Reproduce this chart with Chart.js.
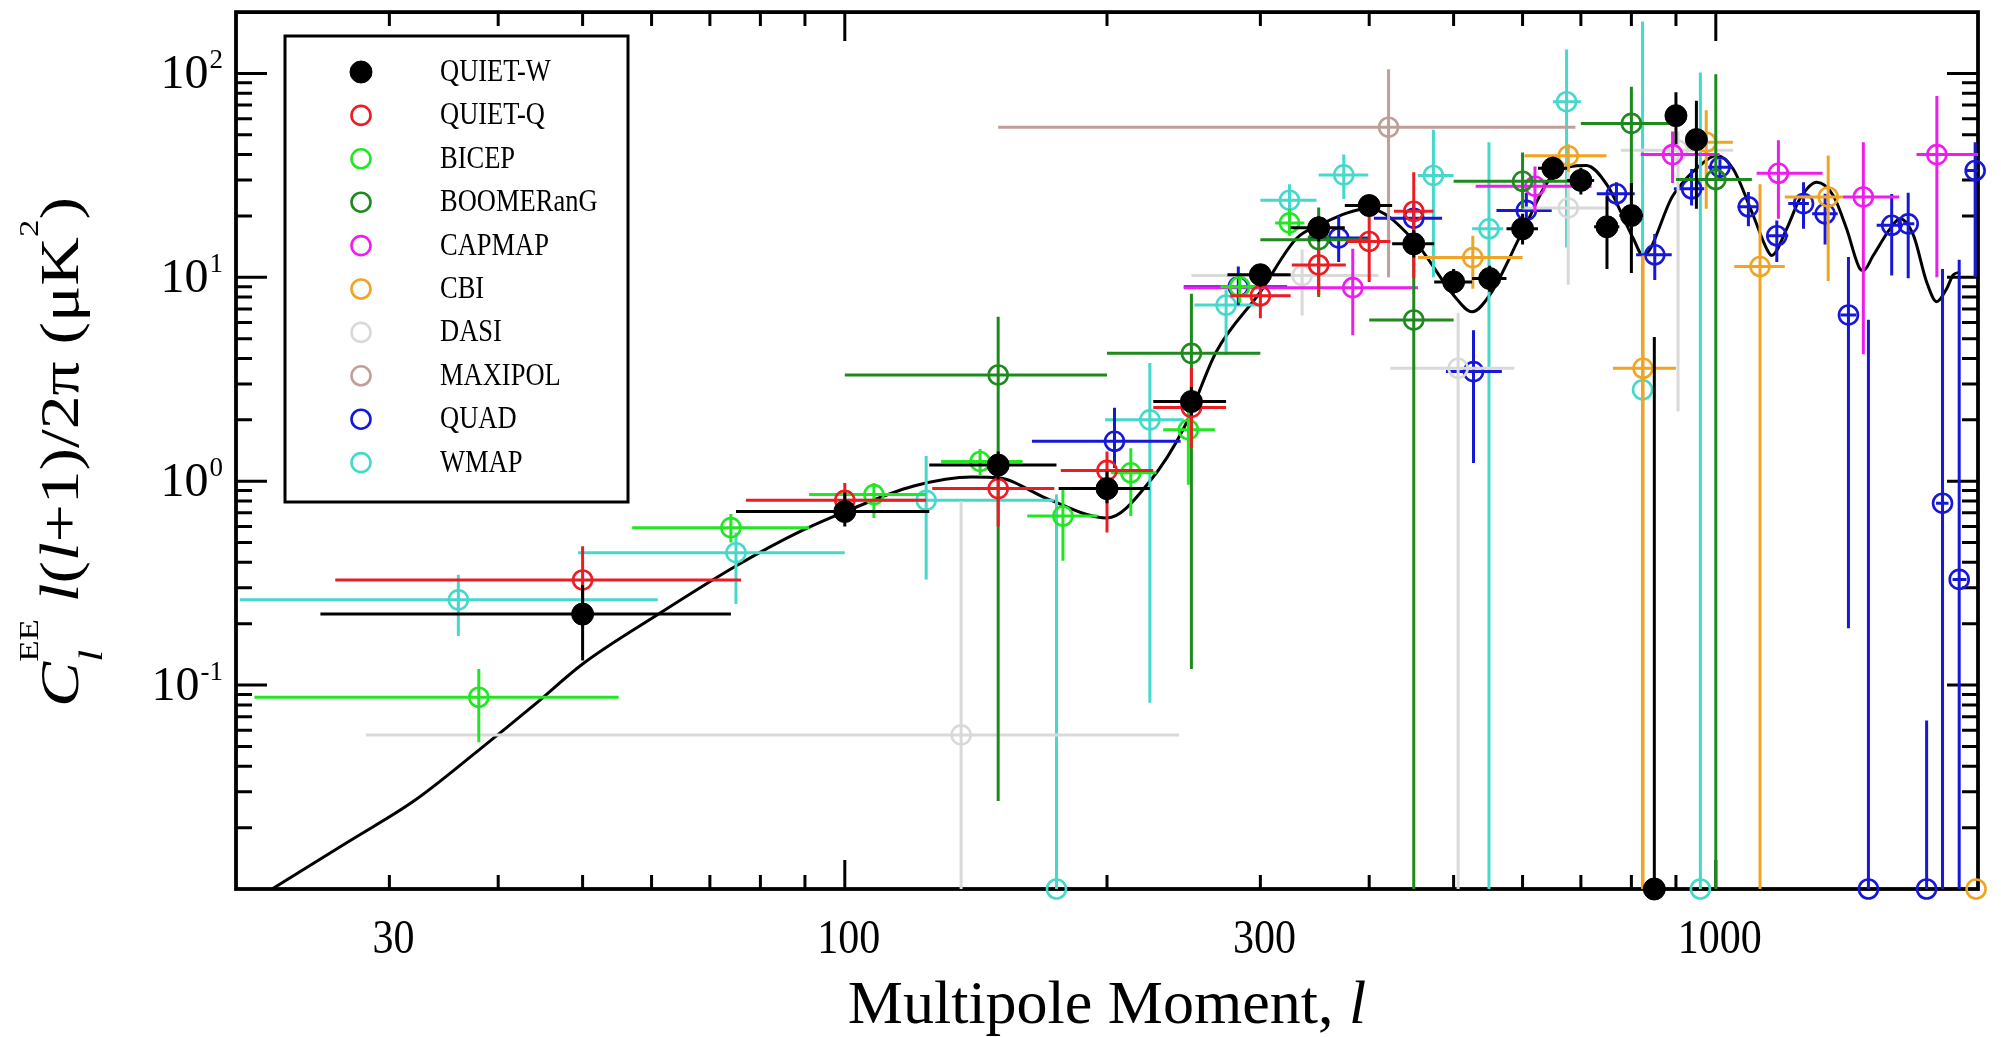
<!DOCTYPE html>
<html><head><meta charset="utf-8">
<script src="https://cdn.jsdelivr.net/npm/chart.js@4/dist/chart.umd.min.js"></script>
<style>html,body{margin:0;padding:0;background:#fff;}#wrap{width:2001px;height:1037px;}</style>
</head><body><div id="wrap"><canvas id="c" width="2001" height="1037"></canvas></div>
<script>
// ---------- data ----------
const curveL = [22,27,32,38,44,50,61,75,89,100,120,140,150,172,200,224,245,267,300,330,350,400,450,500,525,550,600,650,710,750,804,825,893,959,1002,1047,1104,1144,1159,1206,1249,1306,1364,1413,1464,1477,1516,1585,1627,1686,1746,1793,1841,1874,1908];
const curveV = [0.0100,0.0172,0.027,0.048,0.080,0.127,0.222,0.384,0.569,0.708,0.948,1.05,1.04,0.81,0.66,1.0,1.82,4.32,8.49,15.5,18.0,21.7,15.2,8.18,6.78,8.18,16.8,31.6,35.4,28.4,15.5,12.8,25.2,35.4,39.6,34.0,20.1,13.8,12.8,17.3,24.3,29.3,25.2,17.3,11.0,10.8,12.8,17.3,19.4,16.1,9.5,7.6,8.8,10.3,10.6];

const quietW_l   = [50,100,150,200,250,300,350,400,450,500,550,600,650,700,750,800,850,900,950];
const quietW_v   = [0.223,0.71,1.2,0.92,2.46,10.3,17.5,22.5,14.6,9.5,9.87,17.3,34.3,29.9,17.7,20.1,0.01,62.1,47.4];
const quietW_lLo = [25,75,125,176,226,275,325,375,425,475,525,575,625,675,725,775,850,875,925];
const quietW_lHi = [74,125,175,224,274,325,375,425,475,525,575,625,675,725,775,825,850,925,975];
const quietW_vLo = [0.132,0.6,1.02,0.78,2.1,9.0,15,20,12.5,8.3,8.5,14.5,30,25.5,11,10.5,0.001,45,21.7];
const quietW_vHi = [0.31,0.88,1.4,1.12,2.9,11.6,20,25,17,11,11.4,20.5,39,34.5,25,29,5.1,81,73.5];

const quietQ_l   = [50,100,150,200,250,300,350,400,450];
const quietQ_v   = [0.328,0.806,0.92,1.13,2.3,8.12,11.5,15.0,21.1];
const quietQ_lLo = [26,77,126,177,226,277,326,377,427];
const quietQ_lHi = [76,124,174,226,274,325,376,423,474];
const quietQ_vLo = [0.19,0.67,0.6,0.56,1.46,6.3,8.2,9.5,9.9];
const quietQ_vHi = [0.48,0.98,1.2,1.4,3.6,9.6,13.8,20.3,32.8];

const bicep_l   = [38,74,108,143,178,213,248,284,324];
const bicep_v   = [0.0872,0.592,0.86,1.25,0.675,1.1,1.79,9.0,18.5];
const bicep_lLo = [21,57,91,129,162,202,232,270,312];
const bicep_lHi = [55,91,124,160,195,228,266,300,337];
const bicep_vLo = [0.0525,0.5,0.66,1.07,0.407,0.675,0.96,7.5,16];
const bicep_vHi = [0.12,0.69,0.98,1.44,0.91,1.45,2.3,10.5,21.7];

const boom_l   = [150,250,350,450,600,800,1000];
const boom_v   = [3.32,4.24,15.3,6.18,29.6,56.9,30.2];
const boom_lLo = [100,200,300,400,500,700,900];
const boom_lHi = [200,300,400,500,700,900,1100];
const boom_vLo = [0.027,0.12,8,0.001,21.7,17,0.001];
const boom_vHi = [6.4,8.3,22,15,41,86,99];

const capmap_l   = [383,620,892,1180,1477,1794];
const capmap_v   = [8.9,28,40,32.4,24.8,40];
const capmap_lLo = [245,530,820,1114,1400,1700];
const capmap_lHi = [455,720,1010,1326,1624,2000];
const capmap_vLo = [5.2,21,29,19.4,4.2,10];
const capmap_vHi = [13.8,35,52,47.1,46,77.5];

const cbi_l   = [526,677,825,975,1124,1346,1990];
const cbi_v   = [12.5,39.5,3.58,46,11.3,24.8,0.01];
const cbi_lLo = [455,603,762,948,1050,1200,1990];
const cbi_lHi = [600,749,900,1046,1200,1400,1990];
const cbi_vLo = [8.8,33,0.001,21.7,0.001,9.6,0.01];
const cbi_vHi = [16,45,12.8,66,28.6,39.6,0.01];

const dasi_l   = [136,335,506,677,905];
const dasi_v   = [0.057,10.2,3.58,21.9,42];
const dasi_lLo = [28.2,250,423,600,778];
const dasi_lHi = [242,410,587,755,1047];
const dasi_vLo = [0.001,6.5,0.001,9.2,2.2];
const dasi_vHi = [0.8,13.7,6.7,40,52];

const maxipol_l   = [421];
const maxipol_v   = [54.5];
const maxipol_lLo = [150];
const maxipol_lHi = [690];
const maxipol_vLo = [10];
const maxipol_vHi = [105];

const quad_l   = [204,283,369,450,527,606,769,851,938,1011,1090,1175,1261,1335,1420,1497,1592,1663,1746,1821,1903,1985];
const quad_v   = [1.57,9.0,15.6,19.5,3.45,21.3,25.7,12.9,27.2,34.7,22.2,16.0,23.0,20.5,6.54,0.01,18.0,18.3,0.01,0.78,0.33,33.4];
const quad_lLo = [164,245,340,405,490,560,730,810,895,980,1059,1144,1211,1290,1390,1497,1530,1640,1746,1790,1870,1940];
const quad_lHi = [243,322,400,485,568,648,807,890,970,1045,1116,1211,1279,1380,1450,1497,1640,1690,1746,1850,1940,2000];
const quad_vLo = [1.16,7.3,11.9,16.5,1.23,18,22.5,9.7,22.5,31,17.8,11.9,17.3,14.5,0.19,0.001,10.2,9.9,0.001,0.001,0.001,10];
const quad_vHi = [2.29,11.3,20.1,23,5.5,26,29.3,16.3,34,38,26.2,19.0,29.3,25.7,12.6,6.2,25.6,26,0.067,11,12.2,46];

const wmap_l   = [36,75,124,175,224,274,324,374,474,549,674,824,960];
const wmap_v   = [0.262,0.446,0.806,0.01,2.0,7.31,23.9,31.8,31.6,17.3,72.7,2.81,0.01];
const wmap_lLo = [20.2,49.4,100,175,199,252,300,350,455,525,650,824,960];
const wmap_lHi = [61,100,174,175,245,300,348,399,500,570,700,824,960];
const wmap_vLo = [0.174,0.25,0.33,0.001,0.082,4.16,19.4,24.2,10,0.001,14,0.001,0.001];
const wmap_vHi = [0.348,0.56,1.33,0.86,3.8,8.7,28.6,40,53,46,131,180,101];

const xTickValues = [30,100,300,1000];
const xTickLabels = ['30','100','300','1000'];
const yTickValues = [0.1,1,10,100];
const yTickExps   = ['-1','0','1','2'];

// ---------- build ----------
function series(label, color, L, V, lLo, lHi, vLo, vHi, filled){
  return {
    type:'scatter', label,
    data: L.map((l,i)=>({x:l, y:V[i]})),
    errX: L.map((_,i)=>[lLo[i], lHi[i]]),
    errY: L.map((_,i)=>[vLo[i], vHi[i]]),
    pointBorderColor: color,
    pointBackgroundColor: filled ? color : 'rgba(255,255,255,0)',
    pointRadius: filled ? 11 : 9.5,
    pointBorderWidth: filled ? 1 : 2.6,
    pointHoverRadius: filled ? 11 : 9.5,
    showLine:false, clip:false
  };
}
const datasets = [
  series('QUIET-W','#000000',quietW_l,quietW_v,quietW_lLo,quietW_lHi,quietW_vLo,quietW_vHi,true),
  series('QUIET-Q','#ec1c24',quietQ_l,quietQ_v,quietQ_lLo,quietQ_lHi,quietQ_vLo,quietQ_vHi,false),
  series('BICEP','#22e622',bicep_l,bicep_v,bicep_lLo,bicep_lHi,bicep_vLo,bicep_vHi,false),
  series('BOOMERanG','#1e8a1e',boom_l,boom_v,boom_lLo,boom_lHi,boom_vLo,boom_vHi,false),
  series('CAPMAP','#ee1cee',capmap_l,capmap_v,capmap_lLo,capmap_lHi,capmap_vLo,capmap_vHi,false),
  series('CBI','#f0a424',cbi_l,cbi_v,cbi_lLo,cbi_lHi,cbi_vLo,cbi_vHi,false),
  series('DASI','#d9d9d9',dasi_l,dasi_v,dasi_lLo,dasi_lHi,dasi_vLo,dasi_vHi,false),
  series('MAXIPOL','#bf9f9a',maxipol_l,maxipol_v,maxipol_lLo,maxipol_lHi,maxipol_vLo,maxipol_vHi,false),
  series('QUAD','#1717d8',quad_l,quad_v,quad_lLo,quad_lHi,quad_vLo,quad_vHi,false),
  series('WMAP','#45d9cb',wmap_l,wmap_v,wmap_lLo,wmap_lHi,wmap_vLo,wmap_vHi,false),
  { type:'line', label:'model', data: curveL.map((l,i)=>({x:l,y:curveV[i]})),
    borderColor:'#000', borderWidth:3, pointRadius:0, fill:false,
    cubicInterpolationMode:'monotone', isModel:true }
];

const SERIF = '"Liberation Serif","DejaVu Serif",serif';
const SY = 1.18; // vertical stretch of glyphs in the reference

function txt(ctx, s, x, y, size, italic, align, sy){
  ctx.save();
  ctx.font = (italic?'italic ':'') + size + 'px ' + SERIF;
  ctx.textAlign = align || 'left';
  ctx.textBaseline = 'alphabetic';
  ctx.translate(x, y); ctx.scale(1, sy || SY);
  ctx.fillText(s, 0, 0);
  ctx.restore();
}
function w(ctx, s, size, italic){
  ctx.font = (italic?'italic ':'') + size + 'px ' + SERIF;
  return ctx.measureText(s).width;
}

const errPlugin = {
  id:'errBars',
  beforeDatasetDraw(chart, args){
    const ds = chart.data.datasets[args.index];
    if(!ds.errX) return;
    const {ctx, chartArea:a, scales:{x,y}} = chart;
    ctx.save();
    ctx.beginPath(); ctx.rect(a.left,a.top,a.right-a.left,a.bottom-a.top); ctx.clip();
    ctx.strokeStyle = ds.pointBorderColor; ctx.lineWidth = 3;
    ctx.beginPath();
    ds.data.forEach((p,i)=>{
      const px=x.getPixelForValue(p.x), py=y.getPixelForValue(p.y);
      const [l0,l1]=ds.errX[i], [v0,v1]=ds.errY[i];
      if(l1>l0){ ctx.moveTo(x.getPixelForValue(l0),py); ctx.lineTo(x.getPixelForValue(l1),py); }
      if(v1>v0){ ctx.moveTo(px,y.getPixelForValue(v0)); ctx.lineTo(px,y.getPixelForValue(v1)); }
    });
    ctx.stroke(); ctx.restore();
  }
};

const framePlugin = {
  id:'frame',
  beforeDatasetsDraw(chart){
    const {ctx, chartArea:a, scales:{x,y}} = chart;
    ctx.save(); ctx.strokeStyle='#000'; ctx.lineWidth=3; ctx.beginPath();
    const xt = [];
    for(let d=10; d<=1000; d*=10) for(let k=1;k<=9;k++){ const v=k*d; if(v>20 && v<2000) xt.push(v); }
    xt.forEach(v=>{
      const px = x.getPixelForValue(v), L = (v===100||v===1000)?29:14;
      ctx.moveTo(px,a.bottom); ctx.lineTo(px,a.bottom-L);
      ctx.moveTo(px,a.top); ctx.lineTo(px,a.top+L);
    });
    for(let d=0.01; d<=100; d*=10) for(let k=1;k<=9;k++){
      const v=k*d; if(v<=0.0100001 || v>=199) continue;
      const py = y.getPixelForValue(v), L = (k===1)?31:16;
      ctx.moveTo(a.left,py); ctx.lineTo(a.left+L,py);
      ctx.moveTo(a.right,py); ctx.lineTo(a.right-L,py);
    }
    ctx.stroke();
    ctx.lineWidth=3.8; ctx.strokeRect(a.left,a.top,a.right-a.left,a.bottom-a.top);
    ctx.restore();
  }
};

const legendPlugin = {
  id:'boxLegend',
  afterDatasetsDraw(chart){
    const {ctx} = chart;
    ctx.save();
    ctx.fillStyle='#fff'; ctx.fillRect(285,36,343,466);
    ctx.strokeStyle='#000'; ctx.lineWidth=3; ctx.strokeRect(285,36,343,466);
    chart.data.datasets.forEach((ds,i)=>{
      if(ds.isModel) return;
      const cy = 72 + i*43.4;
      ctx.beginPath(); ctx.arc(361, cy, ds.pointRadius, 0, Math.PI*2);
      ctx.fillStyle = ds.pointBackgroundColor; ctx.fill();
      ctx.lineWidth = ds.pointBorderWidth; ctx.strokeStyle = ds.pointBorderColor; ctx.stroke();
      ctx.fillStyle='#000';
      txt(ctx, ds.label, 440, cy+9, 26.5, false);
    });
    ctx.restore();
  }
};

const axisTextPlugin = {
  id:'axisText',
  afterDraw(chart){
    const {ctx, chartArea:a, scales:{x,y}} = chart;
    ctx.save(); ctx.fillStyle='#000';
    // x tick labels
    xTickValues.forEach((v,i)=>{ txt(ctx, xTickLabels[i], x.getPixelForValue(v)+4, 953, 42, false, 'center'); });
    // y tick labels
    yTickValues.forEach((v,i)=>{
      const py = y.getPixelForValue(v);
      const wm = w(ctx,'10',48), ws = w(ctx,yTickExps[i],27);
      const start = a.left - 13 - ws - wm - 1;
      txt(ctx,'10',start,py+15,48,false,'left',1.0);
      txt(ctx,yTickExps[i],start+wm+1,py-5,27,false,'left',1.0);
    });
    // x title
    const s1='Multipole Moment, ', s2='l', fs=62;
    const tw = w(ctx,s1,fs)+w(ctx,s2,fs,true);
    const x0 = (a.left+a.right)/2 - tw/2;
    txt(ctx,s1,x0,1023,fs,false,'left',1.0);
    txt(ctx,s2,x0+w(ctx,s1,fs),1023,fs,true,'left',1.0);
    // y title (rotated)
    const F=54, Fs=34, Fp=28;
    const segs = [
      {t:'C',f:F,it:true,dy:0},
      {stack:[{t:'l',f:Fs,it:true,dy:24},{t:'EE',f:Fp,it:false,dy:-40}]},
      {t:' ',f:F,it:false,dy:0},
      {t:'l',f:F,it:true,dy:0},{t:'(',f:F,it:false,dy:0},{t:'l',f:F,it:true,dy:0},
      {t:'+1)/2\u03C0 (\u03BCK',f:F,it:false,dy:0},
      {t:'2',f:Fp,it:false,dy:-40},
      {t:')',f:F,it:false,dy:0}
    ];
    let total=0;
    segs.forEach(s=>{ s.w = s.stack ? Math.max(...s.stack.map(q=>w(ctx,q.t,q.f,q.it))) : w(ctx,s.t,s.f,s.it); total+=s.w; });
    ctx.save();
    ctx.translate(78, 452); ctx.rotate(-Math.PI/2); ctx.scale(1.25,1);
    let cx = -total/2;
    ctx.textBaseline='alphabetic'; ctx.textAlign='left';
    segs.forEach(s=>{
      const parts = s.stack || [s];
      parts.forEach(q=>{ ctx.font=(q.it?'italic ':'')+q.f+'px '+SERIF; ctx.fillText(q.t, cx, q.dy); });
      cx += s.w;
    });
    ctx.restore();
    ctx.restore();
  }
};

new Chart(document.getElementById('c'), {
  data:{ datasets },
  options:{
    responsive:false, animation:false, devicePixelRatio:1,
    layout:{ padding:{ left:236, right:23, top:11, bottom:148 } },
    plugins:{ legend:{display:false}, tooltip:{enabled:false} },
    scales:{
      x:{ type:'logarithmic', min:20, max:2000, display:false },
      y:{ type:'logarithmic', min:0.01, max:200, display:false }
    }
  },
  plugins:[errPlugin, framePlugin, legendPlugin, axisTextPlugin]
});
</script></body></html>
